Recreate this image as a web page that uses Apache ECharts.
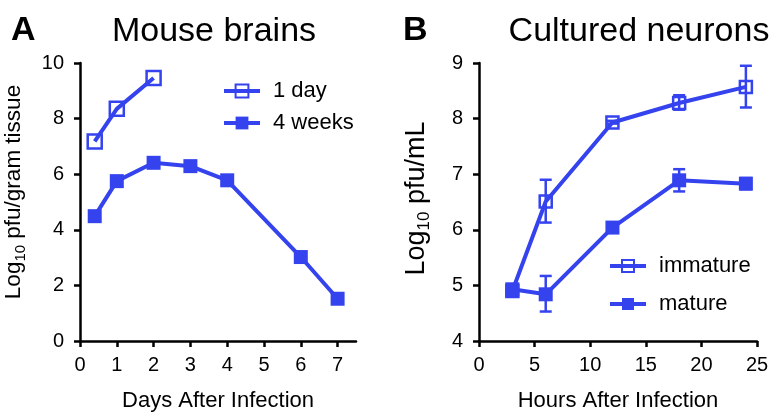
<!DOCTYPE html>
<html>
<head>
<meta charset="utf-8">
<script src="https://cdn.jsdelivr.net/npm/echarts@6/dist/echarts.min.js"></script>
<style>
html,body{margin:0;padding:0;background:#fff;}
#c{width:773px;height:412px;}
</style>
</head>
<body>
<div id="c"></div>
<script>
// Panel A: Mouse brains
var daysOneDay = [0.4, 1, 2];
var oneDay = [7.18, 8.35, 9.46];
var daysFourWeeks = [0.4, 1, 2, 3, 4, 6, 7];
var fourWeeks = [4.49, 5.75, 6.41, 6.29, 5.78, 3.02, 1.52];
var dayTicks = [0, 1, 2, 3, 4, 5, 6, 7];

// Panel B: Cultured neurons
var hours = [3, 6, 12, 18, 24];
var immature = [4.90, 6.51, 7.93, 8.28, 8.57];
var immatureLow = [4.88, 6.13, 7.91, 8.16, 8.20];
var immatureHigh = [4.92, 6.90, 7.96, 8.42, 8.95];
var mature = [4.93, 4.84, 6.04, 6.89, 6.83];
var matureLow = [4.87, 4.53, 6.00, 6.69, 6.73];
var matureHigh = [4.97, 5.17, 6.08, 7.09, 6.93];
var hourTicks = [0, 5, 10, 15, 20, 25];

var BLUE = '#3443ee';
var FONT = '"Liberation Sans", Arial, Helvetica, sans-serif';

function pairs(xs, ys) { return xs.map(function (x, i) { return [x, ys[i]]; }); }
function errTriples(xs, lo, hi) { return xs.map(function (x, i) { return [x, lo[i], hi[i]]; }); }

function errRender(params, api) {
  var x = api.value(0), lo = api.value(1), hi = api.value(2);
  var p1 = api.coord([x, lo]), p2 = api.coord([x, hi]);
  var w = 6;
  var st = { stroke: BLUE, lineWidth: 2.5, fill: null };
  return {
    type: 'group',
    children: [
      { type: 'line', shape: { x1: p1[0], y1: p1[1], x2: p2[0], y2: p2[1] }, style: st },
      { type: 'line', shape: { x1: p1[0] - w, y1: p1[1], x2: p1[0] + w, y2: p1[1] }, style: st },
      { type: 'line', shape: { x1: p2[0] - w, y1: p2[1], x2: p2[0] + w, y2: p2[1] }, style: st }
    ]
  };
}

function axisCommon() {
  return {
    axisLine: { show: true, onZero: false, lineStyle: { color: '#000', width: 2.5 } },
    axisTick: { show: true, inside: false, length: 6, lineStyle: { color: '#000', width: 2.5 } },
    axisLabel: { color: '#000', fontSize: 20, fontFamily: FONT, margin: 16 },
    splitLine: { show: false },
    nameTextStyle: { color: '#000', fontSize: 22, fontFamily: FONT }
  };
}

function merge(a, b) { for (var k in b) a[k] = b[k]; return a; }

function richName(big, small) {
  return {
    a: { fontSize: big, fontFamily: FONT, color: '#000', lineHeight: big + 6, verticalAlign: 'middle' },
    b: { fontSize: small, fontFamily: FONT, color: '#000', lineHeight: small, verticalAlign: 'bottom' }
  };
}

var legendText = { fontSize: 22, color: '#000', fontFamily: FONT, padding: [0, 0, 0, 8] };

var chart = echarts.init(document.getElementById('c'), null, { renderer: 'canvas' });
chart.setOption({
  backgroundColor: '#fff',
  animation: false,
  title: [
    { text: 'A', left: 6, top: 9, textStyle: { fontSize: 34, fontWeight: 'bold', color: '#000', fontFamily: FONT } },
    { text: 'Mouse brains', left: 209, top: 10, textAlign: 'center', textStyle: { fontSize: 34, fontWeight: 'normal', color: '#000', fontFamily: FONT } },
    { text: 'B', left: 398, top: 9, textStyle: { fontSize: 34, fontWeight: 'bold', color: '#000', fontFamily: FONT } },
    { text: 'Cultured neurons', left: 634, top: 10, textAlign: 'center', textStyle: { fontSize: 34, fontWeight: 'normal', color: '#000', fontFamily: FONT } }
  ],
  legend: [
    {
      data: ['1 day', '4 weeks'], orient: 'vertical', left: 222, top: 80, padding: 0,
      itemWidth: 36, itemHeight: 16, itemGap: 10,
      lineStyle: { width: 4 },
      textStyle: legendText
    },
    {
      data: ['immature', 'mature'], orient: 'vertical', left: 608, top: 255, padding: 0,
      itemWidth: 36, itemHeight: 15, itemGap: 16,
      lineStyle: { width: 4 },
      textStyle: legendText
    }
  ],
  grid: [
    { left: 80, top: 63, width: 276, height: 278, outerBoundsMode: 'none', containLabel: false },
    { left: 479, top: 63, width: 278, height: 278, outerBoundsMode: 'none', containLabel: false }
  ],
  xAxis: [
    merge(axisCommon(), {
      type: 'value', gridIndex: 0, min: 0, max: 7.5, interval: 1,
      name: 'Days After Infection', nameLocation: 'middle', nameGap: 49,
      axisTick: { show: true, length: 6, lineStyle: { color: '#000', width: 2.5 }, customValues: dayTicks },
      axisLabel: { color: '#000', fontSize: 20, fontFamily: FONT, margin: 14, customValues: dayTicks }
    }),
    merge(axisCommon(), {
      type: 'value', gridIndex: 1, min: 0, max: 25, interval: 5,
      name: 'Hours After Infection', nameLocation: 'middle', nameGap: 49,
      axisTick: { show: true, length: 6, lineStyle: { color: '#000', width: 2.5 }, customValues: hourTicks },
      axisLabel: { color: '#000', fontSize: 20, fontFamily: FONT, margin: 14, customValues: hourTicks }
    })
  ],
  yAxis: [
    merge(axisCommon(), {
      type: 'value', gridIndex: 0, min: 0, max: 10, interval: 2,
      name: '{a|Log}{b|10}{a| pfu/gram tissue}', nameLocation: 'middle', nameGap: 52,
      nameTextStyle: { rich: richName(22.5, 15), padding: [0, 0, 0, 20] }
    }),
    merge(axisCommon(), {
      type: 'value', gridIndex: 1, min: 4, max: 9, interval: 1,
      name: '{a|Log}{b|10}{a| pfu/mL}', nameLocation: 'middle', nameGap: 46,
      nameTextStyle: { rich: richName(27, 17), padding: [0, 0, 0, 7] }
    })
  ],
  series: [
    {
      name: '1 day', type: 'line', xAxisIndex: 0, yAxisIndex: 0,
      data: pairs(daysOneDay, oneDay),
      symbol: 'rect', symbolSize: 14,
      itemStyle: { color: 'rgba(255,255,255,0)', borderColor: BLUE, borderWidth: 2.5 },
      lineStyle: { color: BLUE, width: 4 }
    },
    {
      name: '4 weeks', type: 'line', xAxisIndex: 0, yAxisIndex: 0,
      data: pairs(daysFourWeeks, fourWeeks),
      symbol: 'rect', symbolSize: 14,
      itemStyle: { color: BLUE },
      lineStyle: { color: BLUE, width: 4 }
    },
    {
      name: 'immature-err', type: 'custom', xAxisIndex: 1, yAxisIndex: 1,
      data: errTriples(hours, immatureLow, immatureHigh), renderItem: errRender, z: 1
    },
    {
      name: 'mature-err', type: 'custom', xAxisIndex: 1, yAxisIndex: 1,
      data: errTriples(hours, matureLow, matureHigh), renderItem: errRender, z: 1
    },
    {
      name: 'immature', type: 'line', xAxisIndex: 1, yAxisIndex: 1,
      data: pairs(hours, immature),
      symbol: 'rect', symbolSize: 12, z: 3,
      itemStyle: { color: 'rgba(255,255,255,0)', borderColor: BLUE, borderWidth: 2.5 },
      lineStyle: { color: BLUE, width: 4 }
    },
    {
      name: 'mature', type: 'line', xAxisIndex: 1, yAxisIndex: 1,
      data: pairs(hours, mature),
      symbol: 'rect', symbolSize: 14, z: 3,
      itemStyle: { color: BLUE },
      lineStyle: { color: BLUE, width: 4 }
    }
  ]
});
</script>
</body>
</html>
